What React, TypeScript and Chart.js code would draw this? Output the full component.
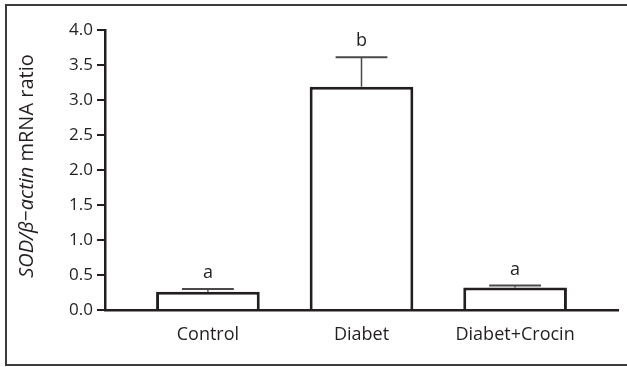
import React, { useEffect, useRef } from "react";
import { Chart, registerables } from "chart.js";

Chart.register(...registerables);

const categories = ["Control", "Diabet", "Diabet+Crocin"];
const ratioValues = [0.26, 3.19, 0.32];
const ratioErrors = [0.04, 0.42, 0.03];
const sigLetters = ["a", "b", "a"];
const yTicks = [0, 0.5, 1, 1.5, 2, 2.5, 3, 3.5, 4];

const FONT = "'Open Sans', 'Noto Sans', sans-serif";
const INK = "#231f20";

const framePlugin = {
  id: "frame",
  beforeDraw(chart: any) {
    const { ctx, width } = chart;
    ctx.save();
    ctx.fillStyle = "#ffffff";
    ctx.fillRect(0, 0, width, chart.height);
    ctx.strokeStyle = "#3c3c3c";
    ctx.lineWidth = 2;
    ctx.strokeRect(6, 5, width + 20, 360);
    ctx.restore();
  },
};

const errorPlugin = {
  id: "errorBars",
  afterDatasetsDraw(chart: any) {
    const { ctx } = chart;
    const meta = chart.getDatasetMeta(0);
    const yScale = chart.scales.y;
    ctx.save();
    meta.data.forEach((bar: any, i: number) => {
      const x = bar.x;
      const yTopBar = bar.y;
      const yErr = yScale.getPixelForValue(ratioValues[i] + ratioErrors[i]);
      const half = bar.width / 4;
      ctx.strokeStyle = "#4a4a4a";
      ctx.lineWidth = 1.5;
      ctx.beginPath();
      ctx.moveTo(x, yTopBar);
      ctx.lineTo(x, yErr);
      ctx.stroke();
      ctx.lineWidth = 2;
      ctx.beginPath();
      ctx.moveTo(x - half, yErr);
      ctx.lineTo(x + half, yErr);
      ctx.stroke();
      ctx.fillStyle = INK;
      ctx.font = `18px ${FONT}`;
      ctx.textAlign = "center";
      ctx.textBaseline = "alphabetic";
      ctx.fillText(sigLetters[i], x, yErr - 11);
    });
    ctx.restore();
  },
};

const yTitlePlugin = {
  id: "yTitle",
  afterDraw(chart: any) {
    const { ctx, chartArea } = chart;
    const partA = "SOD/\u03b2\u2212actin";
    const partB = " mRNA ratio";
    const fontA = `italic 20px ${FONT}`;
    const fontB = `20px ${FONT}`;
    ctx.save();
    ctx.font = fontA;
    const wA = ctx.measureText(partA).width;
    ctx.font = fontB;
    const wB = ctx.measureText(partB).width;
    const total = wA + wB;
    const cy = (chartArea.top + chartArea.bottom) / 2 - 4;
    ctx.translate(27, cy);
    ctx.rotate(-Math.PI / 2);
    ctx.fillStyle = INK;
    ctx.textBaseline = "middle";
    ctx.textAlign = "left";
    ctx.font = fontA;
    ctx.fillText(partA, -total / 2, 0);
    ctx.font = fontB;
    ctx.fillText(partB, -total / 2 + wA, 0);
    ctx.restore();
  },
};

export default function App() {
  const ref = useRef<HTMLCanvasElement>(null);
  useEffect(() => {
    if (!ref.current) return;
    const chart = new Chart(ref.current, {
      type: "bar",
      data: {
        datasets: [
          {
            data: categories.map((_, i) => ({ x: i + 1, y: ratioValues[i] })) as any,
            backgroundColor: "#ffffff",
            borderColor: INK,
            borderWidth: 3,
            categoryPercentage: 1,
            barPercentage: 0.675,
          },
        ],
      },
      options: {
        animation: false,
        responsive: false,
        devicePixelRatio: 1,
        layout: { padding: { top: 30, right: 9, left: 0, bottom: 0 } },
        plugins: { legend: { display: false }, tooltip: { enabled: false } },
        scales: {
          x: {
            type: "linear",
            offset: false,
            bounds: "ticks",
            min: 0.33,
            max: 3.67,
            grid: { display: false },
            border: { display: true, color: INK, width: 2.5 },
            afterBuildTicks: (scale: any) => {
              scale.ticks = categories.map((_, i) => ({ value: i + 1 }));
            },
            afterFit: (scale: any) => {
              scale.height = 57;
            },
            ticks: {
              padding: 6,
              color: INK,
              font: { family: FONT, size: 18 },
              callback: (v: any) => categories[Math.round(Number(v)) - 1] ?? "",
            },
          },
          y: {
            min: 0,
            max: 4,
            afterBuildTicks: (scale: any) => {
              scale.ticks = yTicks.map((v) => ({ value: v }));
            },
            afterFit: (scale: any) => {
              scale.width = 105;
            },
            grid: {
              drawOnChartArea: false,
              drawTicks: true,
              tickLength: 8,
              color: INK,
              lineWidth: 2,
            },
            border: { display: true, color: INK, width: 2.5 },
            ticks: {
              padding: 4,
              color: INK,
              font: { family: FONT, size: 17 },
              callback: (v: any) => Number(v).toFixed(1),
            },
          },
        },
      },
      plugins: [framePlugin, errorPlugin, yTitlePlugin],
    });
    return () => chart.destroy();
  }, []);
  return (
    <div style={{ position: "absolute", left: 0, top: 0, width: 627, height: 367 }}>
      <canvas ref={ref} width={627} height={367} style={{ width: 627, height: 367 }} />
    </div>
  );
}
